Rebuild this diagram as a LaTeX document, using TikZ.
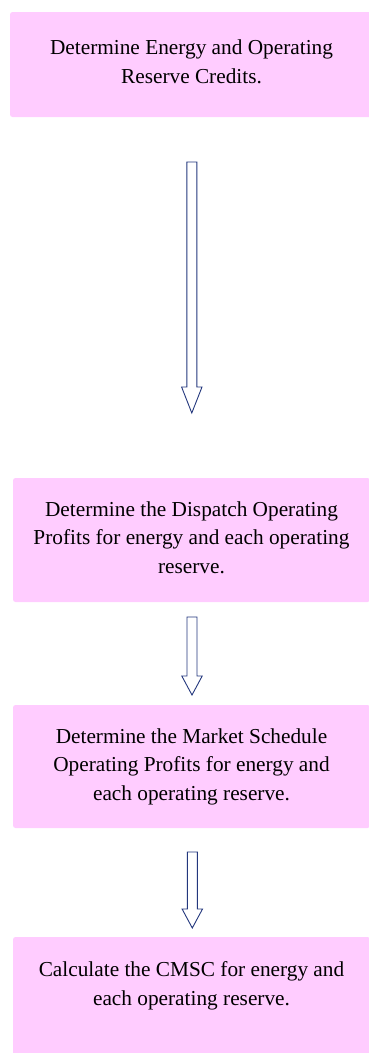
\documentclass[tikz,border=0pt]{standalone}
\usepackage{fontspec}
\setmainfont{Liberation Serif}
\usetikzlibrary{calc}
\definecolor{boxpink}{RGB}{255,204,255}
\definecolor{arrowblue}{RGB}{35,55,125}
\tikzset{
  stepbox/.style={rectangle, fill=boxpink, draw=none, rounded corners=2.5pt,
    align=center, inner xsep=0pt, inner ysep=0pt,
    font=\fontsize{21.3}{28.5}\selectfont, text=black},
  hollow/.style={draw=arrowblue, line width=0.9pt, fill=white, line join=miter}
}
\newcommand{\hollowarrow}[3]{% start, tip, head length
  \draw[hollow] let \p1=(#1), \p2=(#2) in
    (\x1-5pt,\y1) -- (\x1-5pt,\y2+#3) -- (\x1-10.2pt,\y2+#3) -- (\x2,\y2)
    -- (\x1+10.2pt,\y2+#3) -- (\x1+5pt,\y2+#3) -- (\x1+5pt,\y1) -- cycle;
}
\begin{document}
\begin{tikzpicture}[x=1pt,y=-1pt]
\useasboundingbox (0,0) rectangle (369,1053);
\begin{scope}
\clip (0,0) rectangle (369,1053);
\node[stepbox, minimum width=363pt, text height=71pt, text depth=34pt] (b1) at (191.5,64.5)
  {Determine Energy and Operating\\Reserve Credits.};
\node[stepbox, minimum width=357pt, text height=95pt, text depth=29pt] (b2) at (191.5,540)
  {Determine the Dispatch Operating\\Profits for energy and each operating\\reserve.};
\node[stepbox, minimum width=357pt, text height=95pt, text depth=28pt] (b3) at (191.5,766.5)
  {Determine the Market Schedule\\Operating Profits for energy and\\each operating reserve.};
\node[stepbox, minimum width=357pt, text height=68pt, text depth=55pt] (b4) at (191.5,998.5)
  {Calculate the CMSC for energy and\\each operating reserve.};
\end{scope}
\coordinate (a1s) at (191.8,162); \coordinate (a1t) at (191.8,413);
\coordinate (a2s) at (192,617);   \coordinate (a2t) at (192,695);
\coordinate (a3s) at (192.3,852); \coordinate (a3t) at (192.3,928);
\hollowarrow{a1s}{a1t}{26pt}
\hollowarrow{a2s}{a2t}{19pt}
\hollowarrow{a3s}{a3t}{19pt}
\end{tikzpicture}
\end{document}
